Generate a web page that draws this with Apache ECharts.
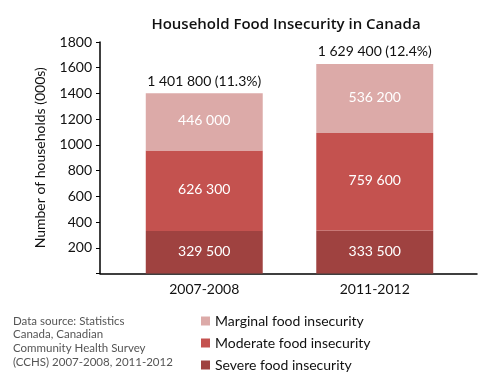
<!DOCTYPE html>
<html><head><meta charset="utf-8">
<script src="https://cdn.jsdelivr.net/npm/echarts@6/dist/echarts.min.js"></script>
<style>html,body{margin:0;padding:0;background:#fff}#c{width:501px;height:382px}</style>
</head><body><div id="c"></div>
<script>
const categories = ['2007-2008', '2011-2012'];
const severe = [329.5, 333.5];
const moderate = [626.3, 759.6];
const marginal = [446.0, 536.2];
const totals = [1401.8, 1629.4];
const percents = [11.3, 12.4];
const yTicks = [0, 1800, 200];

const FONT = 'Lato, "Open Sans", sans-serif';
function fmt(v) {
  const n = Math.round(v * 1000).toString();
  return n.replace(/\B(?=(\d{3})+(?!\d))/g, ' ');
}
const chart = echarts.init(document.getElementById('c'));
const inLabel = {show: true, position: 'inside', offset: [0, -1], color: '#fff', fontSize: 14, fontFamily: FONT,
  formatter: p => fmt(p.value)};
chart.setOption({
  animation: false,
  title: {text: 'Household Food Insecurity in Canada', left: 281, textAlign: 'center', top: 12,
    textStyle: {fontSize: 15, fontWeight: 600, color: '#111', fontFamily: '"Open Sans", sans-serif'}},
  grid: [
    {left: 100, right: 24, top: 42, bottom: 108.5},
    {left: 119, right: 41, top: 42, bottom: 108.5}
  ],
  xAxis: [
    {type: 'value', gridIndex: 0, min: 0, max: 1, axisLine: {show: true, lineStyle: {color: '#000', width: 1.5}},
      axisTick: {show: false}, axisLabel: {show: false}, splitLine: {show: false}},
    {type: 'category', gridIndex: 1, data: categories, axisLine: {show: false}, axisTick: {show: false},
      axisLabel: {fontSize: 14, color: '#111', fontFamily: FONT, margin: 9}}
  ],
  yAxis: [
    {type: 'value', gridIndex: 0, min: yTicks[0], max: yTicks[1], interval: yTicks[2],
      name: 'Number of households (000s)', nameLocation: 'middle', nameGap: 53,
      nameTextStyle: {fontSize: 14, color: '#111', fontFamily: FONT},
      axisLine: {show: true, lineStyle: {color: '#000', width: 1.5}},
      axisTick: {show: true, length: 4, lineStyle: {color: '#000'}},
      axisLabel: {fontSize: 14, color: '#111', fontFamily: FONT, margin: 8,
        formatter: v => v === 0 ? '' : String(v)},
      splitLine: {show: false}},
    {type: 'value', gridIndex: 1, min: yTicks[0], max: yTicks[1], show: false, splitLine: {show: false}}
  ],
  legend: {orient: 'vertical', left: 196, top: 309, itemWidth: 9, itemHeight: 9, itemGap: 8,
    icon: 'rect', data: ['Marginal food insecurity', 'Moderate food insecurity', 'Severe food insecurity'],
    textStyle: {fontSize: 14, color: '#111', fontFamily: FONT}},
  graphic: [{type: 'text', left: 13, top: 314,
    style: {text: 'Data source: Statistics\nCanada, Canadian\nCommunity Health Survey\n(CCHS) 2007-2008, 2011-2012',
      fontSize: 11.5, lineHeight: 13.7, fill: '#555', fontFamily: FONT}}],
  series: [
    {name: 'Severe food insecurity', type: 'bar', stack: 't', xAxisIndex: 1, yAxisIndex: 1,
      data: severe, barWidth: '68.6%', itemStyle: {color: '#9f4240'}, label: inLabel},
    {name: 'Moderate food insecurity', type: 'bar', stack: 't', xAxisIndex: 1, yAxisIndex: 1,
      data: moderate, itemStyle: {color: '#c4524f'}, label: inLabel},
    {name: 'Marginal food insecurity', type: 'bar', stack: 't', xAxisIndex: 1, yAxisIndex: 1,
      data: marginal, itemStyle: {color: '#dcaaa8'}, label: inLabel},
    {name: 'total', type: 'bar', stack: 't', xAxisIndex: 1, yAxisIndex: 1,
      data: totals.map(() => 0), itemStyle: {color: 'transparent'},
      label: {show: true, position: 'top', distance: 5, color: '#111', fontSize: 14, fontFamily: FONT,
        formatter: p => fmt(totals[p.dataIndex]) + ' (' + percents[p.dataIndex].toFixed(1) + '%)'}}
  ]
});
</script></body></html>
